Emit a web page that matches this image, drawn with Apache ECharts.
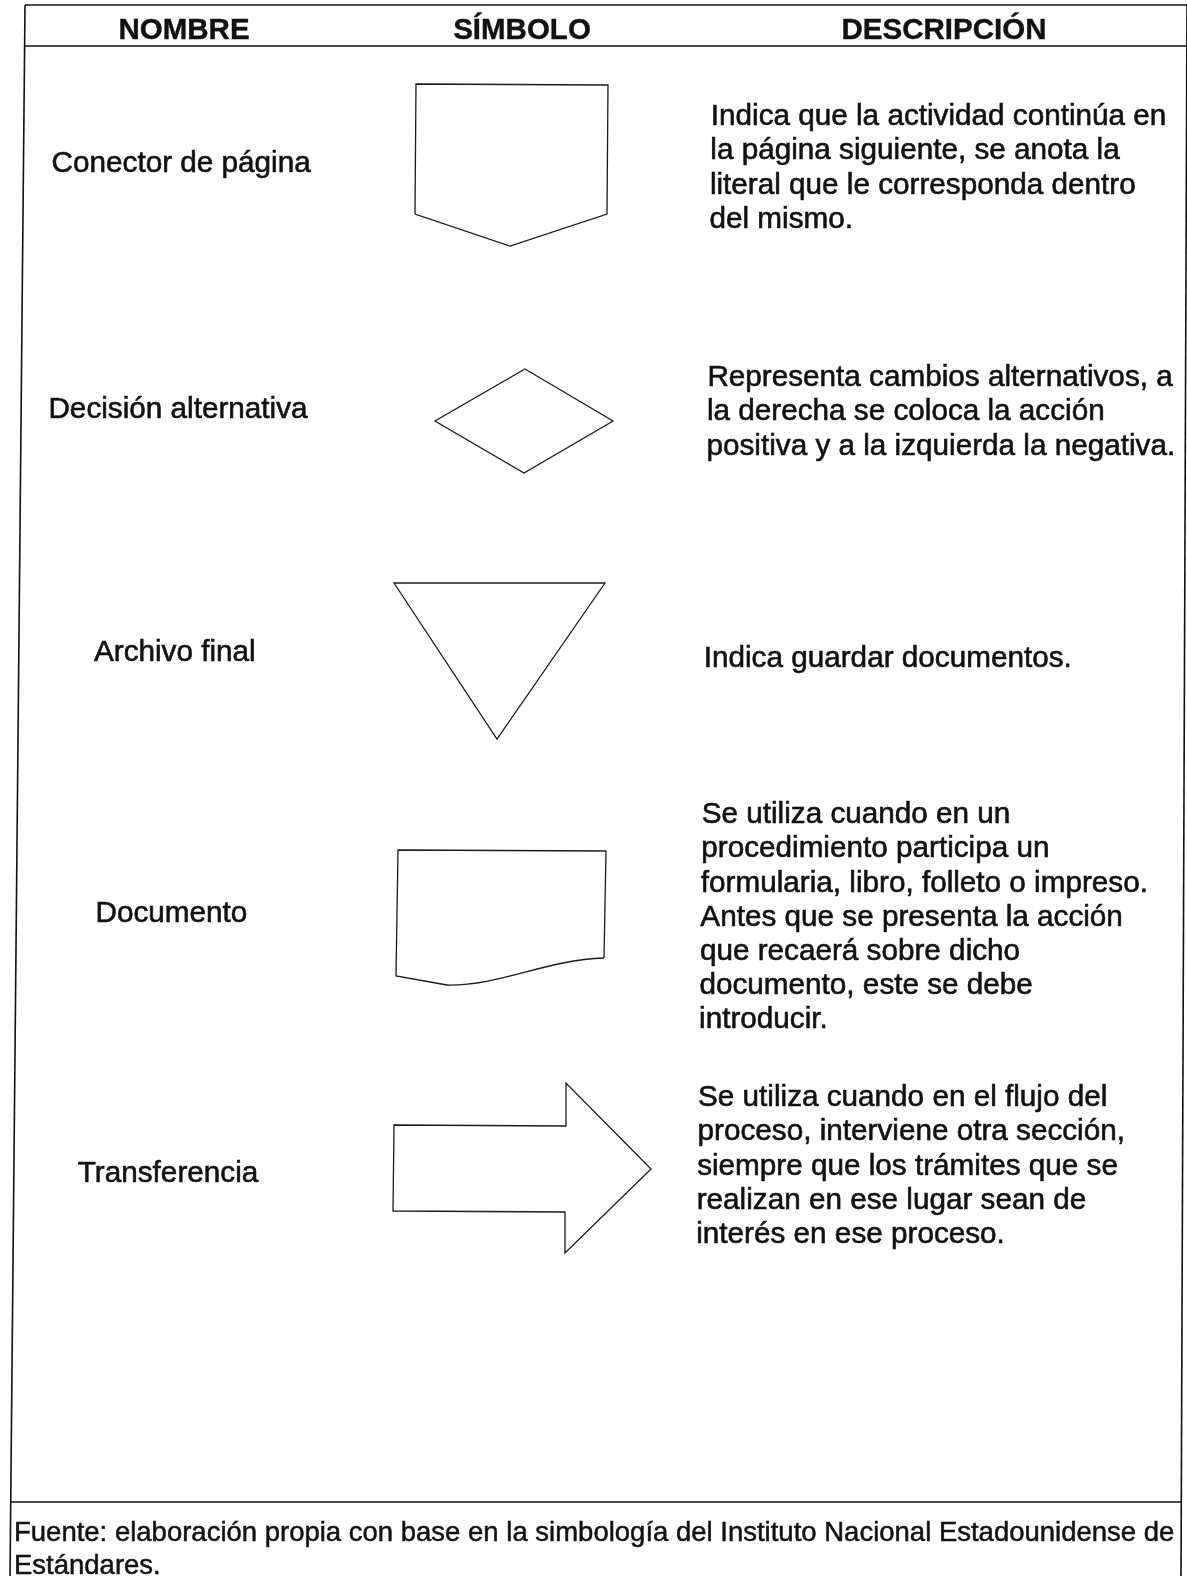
<!DOCTYPE html>
<html>
<head>
<meta charset="utf-8">
<script src="https://cdn.jsdelivr.net/npm/echarts@6/dist/echarts.min.js"></script>
<style>html,body{margin:0;padding:0;background:#fff}#c{width:1187px;height:1576px}</style>
</head>
<body>
<div id="c"></div>
<script>
// ---- content ----
const headers = ['NOMBRE', 'SÍMBOLO', 'DESCRIPCIÓN'];
const names = ['Conector de página', 'Decisión alternativa', 'Archivo final', 'Documento', 'Transferencia'];
const symbols = ['connector', 'decision', 'archive', 'document', 'transfer'];
const descriptions = [
  ['Indica que la actividad continúa en', 'la página siguiente, se anota la', 'literal que le corresponda dentro', 'del mismo.'],
  ['Representa cambios alternativos, a', 'la derecha se coloca la acción', 'positiva y a la izquierda la negativa.'],
  ['Indica guardar documentos.'],
  ['Se utiliza cuando en un', 'procedimiento participa un', 'formularia, libro, folleto o impreso.', 'Antes que se presenta la acción', 'que recaerá sobre dicho', 'documento, este se debe', 'introducir.'],
  ['Se utiliza cuando en el flujo del', 'proceso, interviene otra sección,', 'siempre que los trámites que se', 'realizan en ese lugar sean de', 'interés en ese proceso.']
];
const footer = ['Fuente: elaboración propia con base en la simbología del Instituto Nacional Estadounidense de', 'Estándares.'];

// ---- layout ----
const FONT = '"Liberation Sans", Arial, sans-serif';
const INK = '#111';
const K = 0.013;                       // scan skew
const sk = (x, y) => x - K * (y - 100);
const nameY = [164, 410, 653, 914, 1174];
const descY = [117, 378, 659, 815, 1098];
const LH = 34.2;
const headerX = [184, 522, 944];

function txt(text, x, y, opt) {
  return {
    type: 'text', x: x, y: y,
    style: Object.assign({
      text: text, fontFamily: FONT, fontSize: 29.7, fill: INK,
      stroke: INK, lineWidth: 0.6,
      textAlign: 'left', textVerticalAlign: 'middle'
    }, opt || {})
  };
}
const lineStyle = { stroke: INK, lineWidth: 1.6 };
const shapeStyle = { stroke: '#1a1a1a', lineWidth: 1.3, fill: 'none' };

function symbolEls(kind) {
  switch (kind) {
    case 'connector':
      return [{ type: 'polygon', shape: { points: [[416, 84], [608, 85], [607, 214], [510, 246], [415, 214]] }, style: shapeStyle }];
    case 'decision':
      return [{ type: 'polygon', shape: { points: [[525, 369], [613, 421], [524, 473], [435, 421]] }, style: shapeStyle }];
    case 'archive':
      return [{ type: 'polygon', shape: { points: [[394, 583], [605, 583], [497, 739]] }, style: shapeStyle }];
    case 'document':
      return [
        { type: 'polyline', shape: { points: [[447, 985], [396, 976], [398, 850], [606, 851], [604, 958]] }, style: shapeStyle },
        { type: 'bezierCurve', shape: { x1: 604, y1: 958, cpx1: 545, cpy1: 960, cpx2: 500, cpy2: 986, x2: 447, y2: 985 }, style: shapeStyle }
      ];
    case 'transfer':
      return [{ type: 'polygon', shape: { points: [[394, 1125], [566, 1126], [566, 1083], [651, 1169], [565, 1253], [565, 1212], [393, 1211]] }, style: shapeStyle }];
  }
  return [];
}

const els = [];
// frame
els.push({ type: 'line', shape: { x1: 25, y1: 5, x2: 10, y2: 1576 }, style: lineStyle });
els.push({ type: 'line', shape: { x1: 1187, y1: 5, x2: 1181, y2: 1576 }, style: lineStyle });
els.push({ type: 'line', shape: { x1: 25, y1: 5, x2: 1187, y2: 5 }, style: lineStyle });
els.push({ type: 'line', shape: { x1: 25, y1: 46, x2: 1187, y2: 46 }, style: lineStyle });
els.push({ type: 'line', shape: { x1: 11, y1: 1502, x2: 1182, y2: 1502 }, style: lineStyle });

// headers
headers.forEach((h, i) => {
  els.push(txt(h, headerX[i], 31, { textAlign: 'center', fontWeight: 'bold', fontSize: 29.5, lineWidth: 0.4 }));
});

// rows
names.forEach((n, i) => {
  els.push(txt(n, sk(182, nameY[i]), nameY[i], { textAlign: 'center' }));
  symbolEls(symbols[i]).forEach(e => els.push(e));
  descriptions[i].forEach((line, j) => {
    const y = descY[i] + j * LH;
    els.push(txt(line, sk(711, y), y));
  });
});

// footer
footer.forEach((f, i) => {
  const y = 1533 + i * 33;
  els.push(txt(f, 14, y, { fontSize: 27.5, lineWidth: 0.5 }));
});

const chart = echarts.init(document.getElementById('c'), null, { renderer: 'canvas' });
chart.setOption({
  backgroundColor: '#ffffff',
  animation: false,
  graphic: { elements: els }
});
</script>
</body>
</html>
